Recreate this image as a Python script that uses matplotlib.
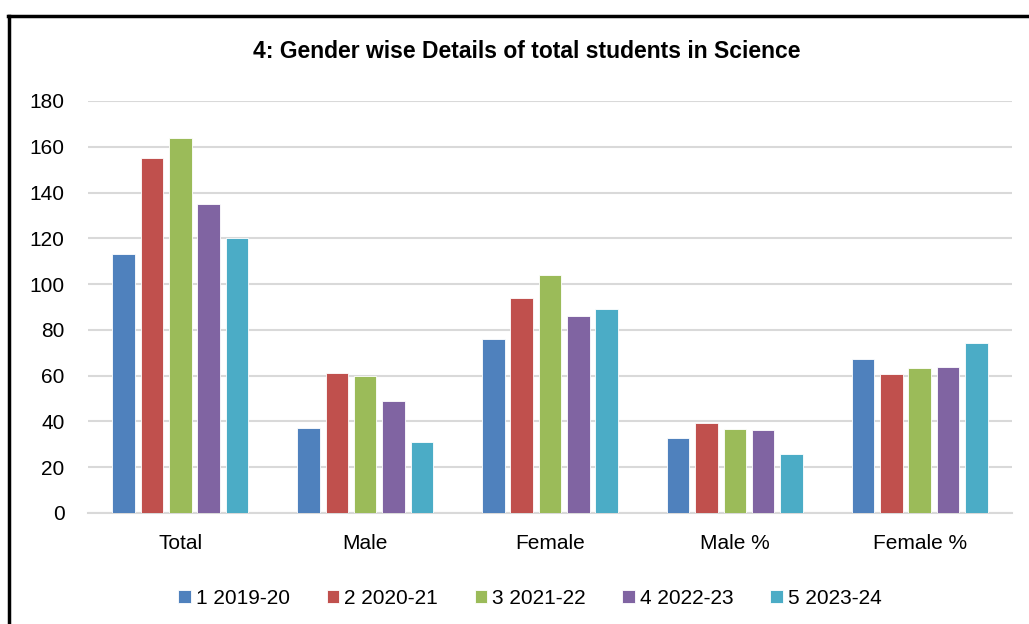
import matplotlib
matplotlib.use("Agg")
import matplotlib.pyplot as plt
from matplotlib.lines import Line2D
import numpy as np

plt.rcParams['font.family'] = ['Liberation Sans', 'DejaVu Sans']

categories = ['Total', 'Male', 'Female', 'Male %', 'Female %']
series_names = ['1 2019-20', '2 2020-21', '3 2021-22', '4 2022-23', '5 2023-24']
values = [
    [113, 37, 76, 32.7, 67.3],
    [155, 61, 94, 39.4, 60.6],
    [164, 60, 104, 36.6, 63.4],
    [135, 49, 86, 36.3, 63.7],
    [120, 31, 89, 25.8, 74.2],
]
colors = ['#4f81bd', '#c0504d', '#9bbb59', '#8064a2', '#4bacc6']

fig = plt.figure(figsize=(10.29, 6.24), dpi=100)
ax = fig.add_axes([88/1029, 1 - 513/624, 924/1029, 412/624])

x = np.arange(len(categories))
pitch = 0.1535
width = 0.122
for i, (name, vals) in enumerate(zip(series_names, values)):
    ax.bar(x + (i - 2) * pitch, vals, width, color=colors[i], label=name,
           edgecolor='white', linewidth=0.6, zorder=3)

ax.set_xlim(-0.5, 4.5)
ax.set_ylim(0, 180)
ax.set_yticks(range(0, 181, 20))
ax.set_xticks(x)
ax.set_xticklabels(categories)
ax.grid(axis='y', color='#d9d9d9', linewidth=1.5, zorder=0)
ax.tick_params(axis='both', length=0, labelsize=15, colors='black')
ax.tick_params(axis='y', pad=17)
ax.tick_params(axis='x', pad=15)
for s in ['top', 'right', 'left']:
    ax.spines[s].set_visible(False)
ax.spines['bottom'].set_color('#d9d9d9')
ax.spines['bottom'].set_linewidth(1.5)

fig.text(527/1029, 1 - 52/624, '4: Gender wise Details of total students in Science',
         ha='center', va='center', fontsize=16.5, fontweight='bold')

fig.legend(loc='center', bbox_to_anchor=(530/1029, 1 - 598/624), ncol=5,
           frameon=False, fontsize=15, handlelength=0.6, handleheight=0.6,
           handletextpad=0.25, columnspacing=1.75)

fig.add_artist(Line2D([9/1029, 9/1029], [0, 1 - 16/624], color='black', linewidth=2.5,
                      transform=fig.transFigure))
fig.add_artist(Line2D([8/1029, 1], [1 - 16/624, 1 - 16/624], color='black', linewidth=2.5,
                      transform=fig.transFigure))

fig.savefig('out.png', dpi=100)
